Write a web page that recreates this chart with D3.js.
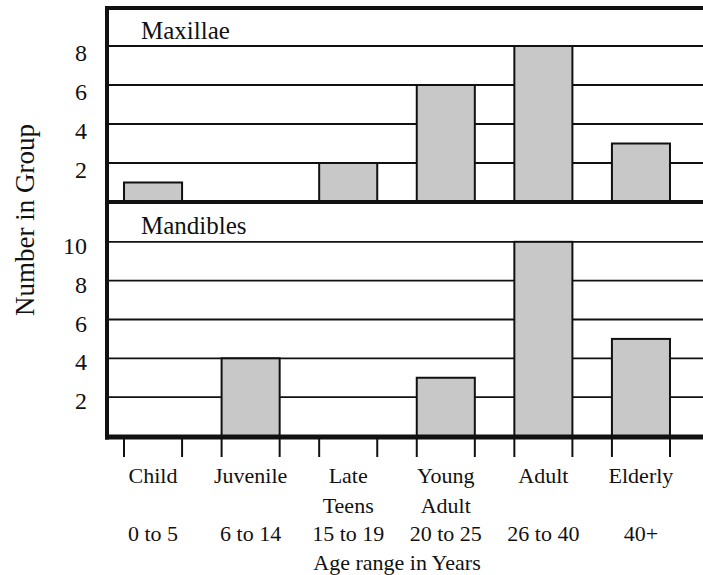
<!DOCTYPE html>
<html>
<head>
<meta charset="utf-8">
<script src="https://cdn.jsdelivr.net/npm/d3@7"></script>
<style>
  body { margin: 0; background: #fff; }
  text { font-family: "Liberation Serif", "Times New Roman", "DejaVu Serif", serif; fill: #111; }
</style>
</head>
<body>
<div id="chart"></div>
<script>
// data
const categories = ["Child", "Juvenile", "Late Teens", "Young Adult", "Adult", "Elderly"];
const categoryLines = [["Child"], ["Juvenile"], ["Late", "Teens"], ["Young", "Adult"], ["Adult"], ["Elderly"]];
const ageRanges = ["0 to 5", "6 to 14", "15 to 19", "20 to 25", "26 to 40", "40+"];
const maxillae = [1, 0, 2, 6, 8, 3];
const mandibles = [0, 4, 0, 3, 10, 5];
const maxillaeTicks = [2, 4, 6, 8];
const mandiblesTicks = [2, 4, 6, 8, 10];

const width = 703, height = 575;
const frameLeft = 107, frameRight = 720;
const svg = d3.select("#chart").append("svg").attr("width", width).attr("height", height);

const x = d3.scaleBand()
    .domain(categories)
    .range([104.5, 689.5])
    .paddingInner(0.405)
    .paddingOuter(0.2);

const panels = [
    { title: "Maxillae", titleY: 39, values: maxillae, ticks: maxillaeTicks, y: d3.scaleLinear().domain([0, 10]).range([202, 7]), labelDy: 15 },
    { title: "Mandibles", titleY: 234, values: mandibles, ticks: mandiblesTicks, y: d3.scaleLinear().domain([0, 12]).range([436, 203]), labelDy: 12 }
];

panels.forEach(function(p) {
    const g = svg.append("g");
    // grid lines
    g.selectAll(".grid").data(p.ticks).enter().append("line")
        .attr("x1", frameLeft).attr("x2", frameRight)
        .attr("y1", d => p.y(d)).attr("y2", d => p.y(d))
        .attr("stroke", "#111").attr("stroke-width", 1.8);
    // tick labels
    g.selectAll(".lab").data(p.ticks).enter().append("text")
        .attr("x", 87).attr("y", d => p.y(d) + p.labelDy)
        .attr("text-anchor", "end")
        .style("font-size", "24px")
        .text(d => d);
    // bars
    const rows = categories.map((c, i) => ({ cat: c, v: p.values[i] })).filter(d => d.v > 0);
    g.selectAll(".bar").data(rows).enter().append("rect")
        .attr("x", d => x(d.cat))
        .attr("width", x.bandwidth())
        .attr("y", d => p.y(d.v))
        .attr("height", d => p.y(0) - p.y(d.v))
        .attr("fill", "#c8c8c8").attr("stroke", "#111").attr("stroke-width", 2);
    // panel title
    g.append("text")
        .attr("x", 141).attr("y", p.titleY)
        .style("font-size", "25px")
        .text(p.title);
});

// frame
svg.append("line").attr("x1", frameLeft - 2).attr("x2", frameRight).attr("y1", 8).attr("y2", 8)
    .attr("stroke", "#111").attr("stroke-width", 4);
svg.append("line").attr("x1", frameLeft - 2).attr("x2", frameRight).attr("y1", 202).attr("y2", 202)
    .attr("stroke", "#111").attr("stroke-width", 4);
svg.append("line").attr("x1", frameLeft - 2).attr("x2", frameRight).attr("y1", 437).attr("y2", 437)
    .attr("stroke", "#111").attr("stroke-width", 5);
svg.append("line").attr("x1", frameLeft).attr("x2", frameLeft).attr("y1", 6).attr("y2", 439.5)
    .attr("stroke", "#111").attr("stroke-width", 4);

// ticks at bar edges under the axis
const edges = [];
categories.forEach(c => { edges.push(x(c)); edges.push(x(c) + x.bandwidth()); });
svg.selectAll(".xtick").data(edges).enter().append("line")
    .attr("x1", d => d).attr("x2", d => d)
    .attr("y1", 439).attr("y2", 457)
    .attr("stroke", "#111").attr("stroke-width", 2);

// category labels
categories.forEach(function(c, i) {
    const cx = x(c) + x.bandwidth() / 2;
    categoryLines[i].forEach(function(line, j) {
        svg.append("text")
            .attr("x", cx).attr("y", 483 + j * 30)
            .attr("text-anchor", "middle")
            .style("font-size", "22px")
            .text(line);
    });
    svg.append("text")
        .attr("x", cx).attr("y", 541)
        .attr("text-anchor", "middle")
        .style("font-size", "22px")
        .text(ageRanges[i]);
});

svg.append("text")
    .attr("x", (x(categories[0]) + x(categories[5]) + x.bandwidth()) / 2).attr("y", 570)
    .attr("text-anchor", "middle")
    .style("font-size", "22px")
    .text("Age range in Years");

svg.append("text")
    .attr("transform", "translate(34,220) rotate(-90)")
    .attr("text-anchor", "middle")
    .style("font-size", "27px")
    .text("Number in Group");
</script>
</body>
</html>
